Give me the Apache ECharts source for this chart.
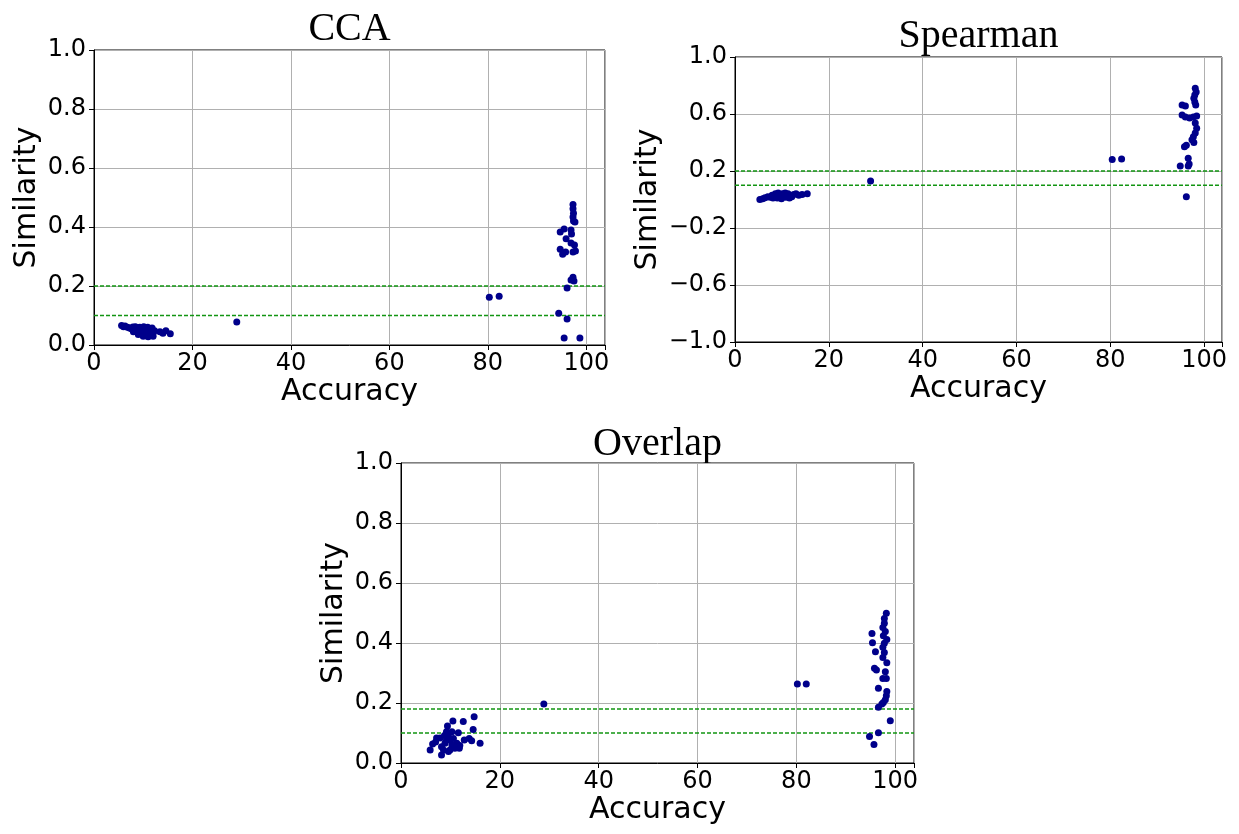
<!DOCTYPE html>
<html>
<head>
<meta charset="utf-8">
<script src="https://cdn.jsdelivr.net/npm/echarts@6/dist/echarts.min.js"></script>
<style>html,body{margin:0;padding:0;background:#fff}#c{width:1239px;height:834px}</style>
</head>
<body>
<div id="c"></div>
<script>
// ---- data ----
const titles = ['CCA', 'Spearman', 'Overlap'];
const xTicks = [0, 20, 40, 60, 80, 100];
const ccaYTicks = [0.0, 0.2, 0.4, 0.6, 0.8, 1.0];
const spYTicks = [-1.0, -0.6, -0.2, 0.2, 0.6, 1.0];
const ovYTicks = [0.0, 0.2, 0.4, 0.6, 0.8, 1.0];

const ccaAcc = [5.6,6.0,6.3,6.8,7.2,7.6,7.9,8.2,8.4,8.7,8.9,9.1,9.3,9.5,9.7,9.9,10.1,10.3,10.5,10.7,10.9,11.1,11.3,11.5,11.8,12.0,12.3,8.0,9.0,10.0,11.0,12.0,9.6,10.4,11.6,13.4,14.0,14.6,15.5,
  29.0,80.3,82.3,
  97.3,97.3,97.4,97.3,97.4,97.7,94.7,95.5,96.9,97.0,95.9,96.9,97.6,97.8,97.3,94.7,95.2,95.8,97.3,96.9,97.5,96.1,94.4,96.1,95.5,98.7];
const ccaSim = [0.066,0.062,0.064,0.06,0.058,0.055,0.061,0.052,0.062,0.05,0.058,0.045,0.06,0.04,0.055,0.048,0.062,0.038,0.054,0.044,0.06,0.035,0.05,0.042,0.058,0.03,0.048,0.045,0.036,0.03,0.028,0.04,0.052,0.056,0.055,0.045,0.04,0.048,0.038,
  0.078,0.162,0.165,
  0.476,0.462,0.447,0.434,0.42,0.417,0.383,0.393,0.39,0.376,0.36,0.346,0.339,0.319,0.315,0.325,0.308,0.315,0.23,0.22,0.217,0.193,0.108,0.088,0.024,0.024];

const spAcc = [5.3,5.9,6.4,7.0,7.5,7.9,8.3,8.6,8.9,9.2,9.5,9.8,10.1,10.4,10.7,11.0,11.3,11.7,12.1,12.5,13.0,13.6,14.3,15.4,8.1,9.0,9.9,10.8,11.6,
  28.9,80.4,82.4,
  98.1,98.3,98.0,97.8,98.0,98.2,95.3,96.0,95.3,96.0,96.9,97.7,98.4,98.1,98.4,98.1,97.7,97.4,97.8,96.2,96.6,94.9,96.6,96.2,95.8,96.8];
const spSim = [0.0,0.005,0.012,0.02,0.015,0.03,0.025,0.04,0.03,0.045,0.035,0.02,0.04,0.03,0.045,0.025,0.04,0.03,0.02,0.035,0.04,0.03,0.035,0.04,0.01,0.01,0.005,0.015,0.01,
  0.13,0.28,0.285,
  0.78,0.755,0.733,0.71,0.684,0.663,0.663,0.656,0.593,0.579,0.572,0.579,0.586,0.537,0.50,0.467,0.44,0.42,0.40,0.38,0.29,0.235,0.235,0.02,0.37,0.25];

const ovAcc = [5.9,6.4,7.2,8.2,8.2,8.6,8.9,9.2,9.6,9.2,9.4,10.3,10.5,11.6,12.6,12.8,11.8,11.3,10.3,9.9,10.6,14.6,14.8,14.3,16.0,13.8,7.9,9.9,9.6,10.9,7.0,8.8,11.9,
  28.9,80.2,82.0,
  98.2,97.8,97.8,97.5,98.0,97.6,98.3,97.8,95.3,95.4,96.0,97.5,97.8,97.5,98.3,95.8,96.2,98.0,98.2,97.5,96.6,98.3,98.2,98.0,97.6,97.3,96.6,99.0,96.6,94.8,95.7];
const ovSim = [0.043,0.063,0.083,0.027,0.054,0.043,0.066,0.077,0.088,0.104,0.123,0.104,0.14,0.101,0.138,0.077,0.049,0.066,0.06,0.077,0.082,0.112,0.154,0.074,0.066,0.082,0.083,0.043,0.038,0.049,0.07,0.092,0.058,
  0.197,0.263,0.263,
  0.499,0.482,0.466,0.452,0.438,0.424,0.412,0.399,0.432,0.401,0.371,0.386,0.368,0.352,0.334,0.316,0.31,0.304,0.282,0.282,0.249,0.238,0.224,0.211,0.202,0.197,0.186,0.141,0.101,0.088,0.062];

const ccaLines = [0.2, 0.1];
const spLines = [0.2, 0.1];
const ovLines = [0.18, 0.1];

// ---- chart ----
const zip = (a, b) => a.map((v, i) => [v, b[i]]);
const MINUS = '\u2212';
const fmtY = v => (v < -1e-9 ? MINUS : '') + Math.abs(v).toFixed(1);
const fmtX = v => Math.abs(v - Math.round(v / 20) * 20) < 1e-6 ? String(Math.round(v)) : '';

const grids = [
  {left: 94, top: 50, width: 511, height: 295},
  {left: 735, top: 57, width: 487, height: 285},
  {left: 401, top: 463, width: 513, height: 300}
];
const yRanges = [[0, 1, 0.2], [-1, 1, 0.4], [0, 1, 0.2]];
const yNameGaps = [52, 72, 52];

const chart = echarts.init(document.getElementById('c'), null, {renderer: 'canvas'});
const tickFont = () => ({fontFamily: 'DejaVu Sans', fontSize: 24, color: '#000'});
const nameFont = () => ({fontFamily: 'DejaVu Sans', fontSize: 30, color: '#000'});

const series = [];
[[ccaAcc, ccaSim, ccaLines], [spAcc, spSim, spLines], [ovAcc, ovSim, ovLines]].forEach((s, i) => {
  series.push({
    type: 'scatter', xAxisIndex: i, yAxisIndex: i,
    data: zip(s[0], s[1]),
    symbol: 'circle', symbolSize: 7,
    itemStyle: {color: '#00008b', opacity: 1},
    z: 3
  });
  s[2].forEach(v => {
    series.push({
      type: 'line', xAxisIndex: i, yAxisIndex: i,
      data: [[0, v], [103.8, v]],
      symbol: 'none', silent: true, z: 2,
      lineStyle: {color: '#129512', type: [4, 2], width: 1.5},
      itemStyle: {color: '#129512'}
    });
  });
});

const option = {
  animation: false,
  backgroundColor: '#fff',
  grid: grids.map(g => Object.assign({show: true, borderColor: '#000', borderWidth: 1, backgroundColor: 'transparent', containLabel: false}, g)),
  xAxis: grids.map((g, i) => ({
    type: 'value', gridIndex: i, min: 0, max: 103.8, interval: 20,
    name: 'Accuracy', nameLocation: 'middle', nameGap: 28, nameTextStyle: nameFont(),
    axisLine: {show: true, onZero: false, lineStyle: {color: '#000', width: 1}},
    axisTick: {show: true, length: 5, lineStyle: {color: '#000'}},
    axisLabel: Object.assign({margin: 7, formatter: fmtX, showMaxLabel: true}, tickFont()),
    splitLine: {show: true, lineStyle: {color: '#b0b0b0', width: 1}}
  })),
  yAxis: grids.map((g, i) => ({
    type: 'value', gridIndex: i, min: yRanges[i][0], max: yRanges[i][1], interval: yRanges[i][2],
    name: 'Similarity', nameLocation: 'middle', nameGap: yNameGaps[i], nameTextStyle: nameFont(),
    axisLine: {show: true, onZero: false, lineStyle: {color: '#000', width: 1}},
    axisTick: {show: true, length: 5, lineStyle: {color: '#000'}},
    axisLabel: Object.assign({margin: 8, formatter: fmtY}, tickFont()),
    splitLine: {show: true, lineStyle: {color: '#b0b0b0', width: 1}}
  })),
  series: series,
  graphic: titles.map((t, i) => ({
    type: 'text', x: grids[i].left + grids[i].width / 2, y: [29, 36, 444][i],
    style: {text: t, font: '40px "Liberation Serif"', fill: '#000', align: 'center', verticalAlign: 'middle'}
  }))
};
chart.setOption(option);
</script>
</body>
</html>
